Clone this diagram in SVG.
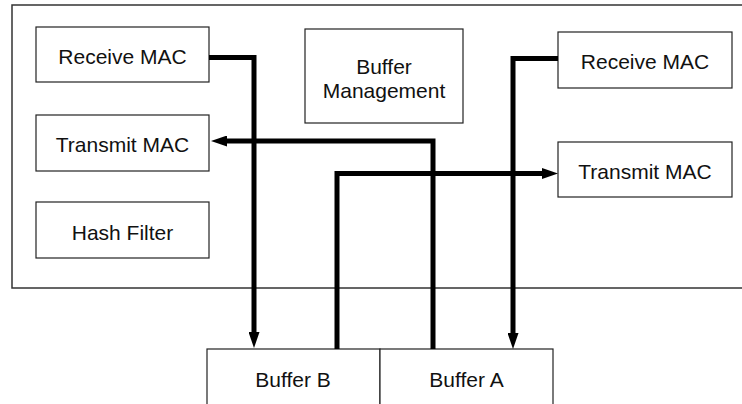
<svg xmlns="http://www.w3.org/2000/svg" width="742" height="404" viewBox="0 0 742 404">
<style>
.box{fill:#fff;stroke:#222;stroke-width:1.2}
.outer{fill:#fff;stroke:#333;stroke-width:1.5}
.lbl{font-family:"Liberation Sans",Arial,sans-serif;font-size:21px;fill:#111;text-anchor:middle}
.wire{fill:none;stroke:#000;stroke-width:5;stroke-linejoin:miter}
</style>
<defs>
<marker id="ah" markerUnits="userSpaceOnUse" markerWidth="17" markerHeight="11" refX="0" refY="5.5" orient="auto">
<path d="M0,0 L16,5.5 L0,11 z" fill="#000"/>
</marker>
</defs>
<rect class="outer" x="12" y="5" width="760" height="283"/>
<g id="recv-left"><rect class="box" x="36" y="27" width="173" height="55"/><text class="lbl" x="122.5" y="64">Receive MAC</text></g>
<g id="xmit-left"><rect class="box" x="36" y="115" width="173" height="56"/><text class="lbl" x="122.5" y="152">Transmit MAC</text></g>
<g id="hash"><rect class="box" x="36" y="202" width="173" height="56"/><text class="lbl" x="122.5" y="240">Hash Filter</text></g>
<g id="bufmgmt"><rect class="box" x="305" y="29" width="158" height="94"/><text class="lbl" x="384" y="74">Buffer</text><text class="lbl" x="384" y="98">Management</text></g>
<g id="recv-right"><rect class="box" x="558" y="32" width="174" height="56"/><text class="lbl" x="645" y="69">Receive MAC</text></g>
<g id="xmit-right"><rect class="box" x="558" y="142" width="174" height="55"/><text class="lbl" x="645" y="179">Transmit MAC</text></g>
<g id="bufB"><rect class="box" x="207" y="349" width="173" height="70"/><text class="lbl" x="293" y="387">Buffer B</text></g>
<g id="bufA"><rect class="box" x="380" y="349" width="173" height="70"/><text class="lbl" x="466.5" y="387">Buffer A</text></g>
<g id="connectors">
<path class="wire" d="M209,57.5 H254 V332" marker-end="url(#ah)"/>
<path class="wire" d="M337,349 V173.5 H542" marker-end="url(#ah)"/>
<path class="wire" d="M433,349 V141 H227" marker-end="url(#ah)"/>
<path class="wire" d="M558,58.5 H513 V333" marker-end="url(#ah)"/>
</g>
</svg>
